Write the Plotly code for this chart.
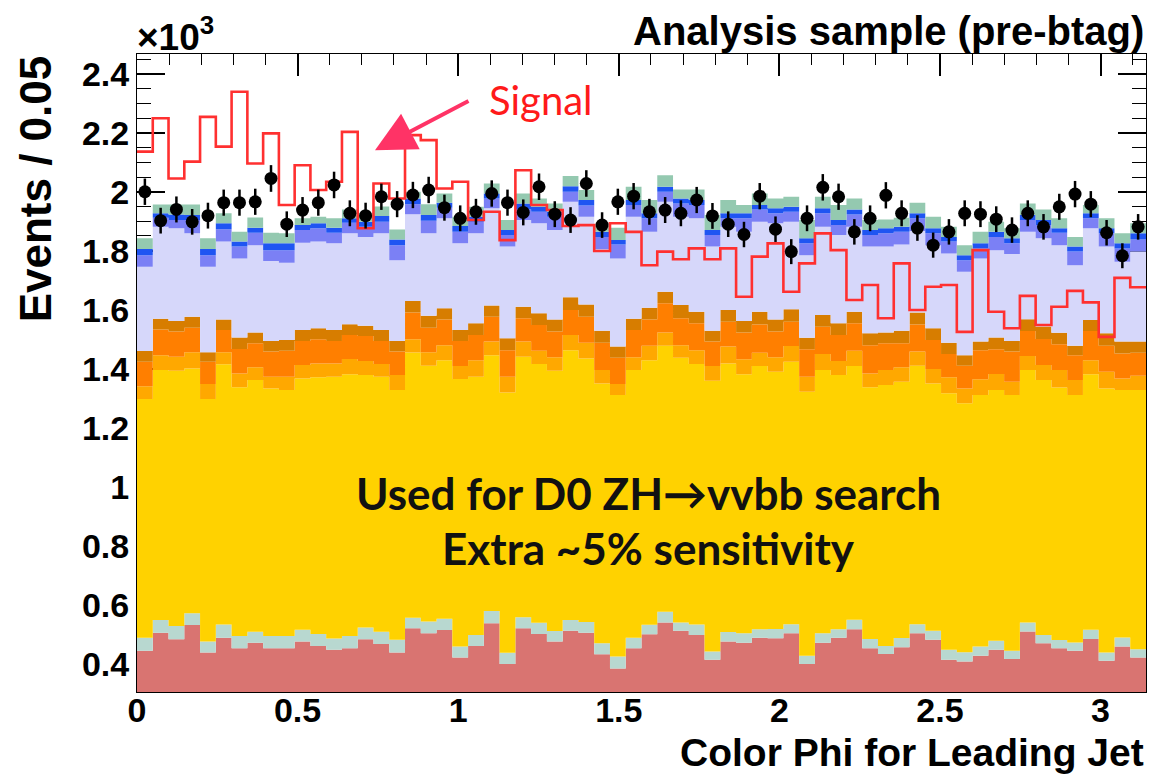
import numpy as np
import plotly.graph_objects as go

# ---- binning: 64 bins over [0, pi] ----
n_bins = 64
x_min, x_max = 0.0, np.pi
bin_edges = np.linspace(x_min, x_max, n_bins + 1)
bin_centers = 0.5 * (bin_edges[:-1] + bin_edges[1:])

# ---- stacked background: cumulative tops of each layer (x10^3 events) ----
top_red = [0.444, 0.505, 0.483, 0.531, 0.438, 0.488, 0.452, 0.471, 0.452, 0.452, 0.475, 0.460, 0.447, 0.452, 0.483, 0.467,
           0.438, 0.520, 0.503, 0.514, 0.421, 0.460, 0.537, 0.399, 0.520, 0.501, 0.475, 0.512, 0.505, 0.432, 0.384, 0.452,
           0.500, 0.540, 0.512, 0.497, 0.413, 0.475, 0.471, 0.488, 0.486, 0.503, 0.399, 0.471, 0.488, 0.517, 0.452, 0.433,
           0.456, 0.503, 0.481, 0.413, 0.407, 0.427, 0.447, 0.416, 0.509, 0.469, 0.452, 0.444, 0.484, 0.410, 0.458, 0.421]
top_lteal = [0.488, 0.548, 0.528, 0.571, 0.475, 0.533, 0.494, 0.508, 0.494, 0.494, 0.515, 0.501, 0.485, 0.494, 0.523, 0.508,
             0.481, 0.556, 0.543, 0.552, 0.458, 0.497, 0.579, 0.437, 0.557, 0.539, 0.511, 0.548, 0.541, 0.469, 0.424, 0.488,
             0.532, 0.576, 0.540, 0.533, 0.441, 0.507, 0.503, 0.517, 0.518, 0.534, 0.427, 0.503, 0.517, 0.549, 0.484, 0.460,
             0.487, 0.534, 0.512, 0.447, 0.439, 0.458, 0.478, 0.444, 0.540, 0.497, 0.480, 0.472, 0.515, 0.438, 0.489, 0.449]
top_yellow = [1.297, 1.396, 1.393, 1.401, 1.297, 1.415, 1.337, 1.362, 1.333, 1.328, 1.367, 1.371, 1.373, 1.381, 1.379, 1.373,
              1.328, 1.455, 1.410, 1.429, 1.365, 1.373, 1.446, 1.319, 1.441, 1.416, 1.393, 1.463, 1.435, 1.350, 1.311, 1.396,
              1.429, 1.478, 1.437, 1.416, 1.359, 1.418, 1.381, 1.409, 1.390, 1.424, 1.322, 1.396, 1.379, 1.409, 1.337, 1.345,
              1.356, 1.410, 1.350, 1.317, 1.283, 1.311, 1.328, 1.311, 1.396, 1.362, 1.336, 1.311, 1.381, 1.333, 1.328, 1.328]
top_lorange = [1.341, 1.446, 1.441, 1.456, 1.348, 1.456, 1.384, 1.405, 1.373, 1.373, 1.413, 1.418, 1.418, 1.433, 1.426, 1.416,
               1.379, 1.500, 1.456, 1.480, 1.409, 1.429, 1.492, 1.373, 1.492, 1.461, 1.439, 1.514, 1.488, 1.396, 1.348, 1.439,
               1.478, 1.523, 1.480, 1.463, 1.409, 1.475, 1.432, 1.454, 1.439, 1.477, 1.373, 1.450, 1.426, 1.461, 1.384, 1.396,
               1.405, 1.458, 1.399, 1.371, 1.333, 1.364, 1.382, 1.356, 1.443, 1.413, 1.396, 1.362, 1.429, 1.390, 1.367, 1.376]
top_orange = [1.424, 1.533, 1.526, 1.539, 1.424, 1.531, 1.467, 1.486, 1.458, 1.461, 1.494, 1.500, 1.494, 1.514, 1.511, 1.494,
              1.458, 1.591, 1.539, 1.567, 1.494, 1.514, 1.576, 1.463, 1.571, 1.548, 1.526, 1.599, 1.576, 1.488, 1.437, 1.531,
              1.567, 1.622, 1.571, 1.554, 1.492, 1.559, 1.523, 1.550, 1.526, 1.559, 1.466, 1.542, 1.514, 1.554, 1.480, 1.486,
              1.486, 1.550, 1.497, 1.450, 1.410, 1.463, 1.466, 1.458, 1.528, 1.501, 1.483, 1.446, 1.528, 1.478, 1.452, 1.454]
top_dorange = [1.460, 1.569, 1.562, 1.576, 1.456, 1.567, 1.506, 1.523, 1.494, 1.497, 1.531, 1.537, 1.531, 1.551, 1.546, 1.531,
               1.494, 1.630, 1.580, 1.605, 1.531, 1.554, 1.614, 1.503, 1.610, 1.588, 1.567, 1.642, 1.618, 1.529, 1.475, 1.569,
               1.607, 1.661, 1.616, 1.593, 1.529, 1.599, 1.562, 1.593, 1.567, 1.602, 1.505, 1.582, 1.554, 1.593, 1.520, 1.523,
               1.529, 1.591, 1.537, 1.488, 1.446, 1.492, 1.506, 1.494, 1.568, 1.543, 1.522, 1.478, 1.565, 1.520, 1.492, 1.492]
top_lavender = [1.746, 1.881, 1.876, 1.859, 1.746, 1.831, 1.774, 1.819, 1.765, 1.759, 1.827, 1.831, 1.825, 1.859, 1.847, 1.859,
                1.768, 1.924, 1.859, 1.910, 1.825, 1.859, 1.944, 1.814, 1.904, 1.893, 1.870, 1.966, 1.915, 1.805, 1.774, 1.915,
                1.864, 1.966, 1.915, 1.910, 1.814, 1.881, 1.864, 1.898, 1.893, 1.898, 1.785, 1.881, 1.853, 1.881, 1.814, 1.814,
                1.821, 1.867, 1.819, 1.791, 1.729, 1.774, 1.802, 1.789, 1.864, 1.842, 1.819, 1.751, 1.876, 1.814, 1.763, 1.797]
top_mblue = [1.785, 1.912, 1.904, 1.904, 1.785, 1.873, 1.814, 1.861, 1.802, 1.802, 1.870, 1.876, 1.861, 1.895, 1.881, 1.898,
             1.819, 1.958, 1.902, 1.946, 1.864, 1.898, 1.977, 1.853, 1.940, 1.932, 1.915, 2.000, 1.953, 1.847, 1.821, 1.955,
             1.910, 2.000, 1.960, 1.955, 1.853, 1.910, 1.910, 1.940, 1.927, 1.932, 1.825, 1.927, 1.887, 1.923, 1.853, 1.859,
             1.864, 1.910, 1.859, 1.831, 1.768, 1.808, 1.847, 1.825, 1.904, 1.887, 1.861, 1.797, 1.910, 1.859, 1.808, 1.838]
top_dblue = [1.806, 1.927, 1.923, 1.921, 1.806, 1.893, 1.831, 1.878, 1.825, 1.825, 1.887, 1.893, 1.878, 1.910, 1.898, 1.918,
             1.838, 1.977, 1.921, 1.963, 1.884, 1.915, 1.994, 1.870, 1.960, 1.949, 1.932, 2.019, 1.972, 1.864, 1.836, 1.972,
             1.927, 2.017, 1.977, 1.972, 1.870, 1.927, 1.927, 1.955, 1.944, 1.949, 1.842, 1.944, 1.904, 1.940, 1.870, 1.876,
             1.881, 1.927, 1.876, 1.847, 1.785, 1.825, 1.864, 1.842, 1.921, 1.904, 1.876, 1.814, 1.927, 1.876, 1.825, 1.859]
top_green = [1.842, 1.957, 1.957, 1.957, 1.842, 1.927, 1.864, 1.913, 1.861, 1.859, 1.910, 1.915, 1.910, 1.940, 1.927, 1.950,
             1.872, 2.000, 1.958, 1.994, 1.915, 1.949, 2.028, 1.904, 1.994, 1.977, 1.960, 2.053, 2.006, 1.885, 1.878, 2.017,
             1.972, 2.056, 2.008, 2.008, 1.921, 1.972, 1.955, 1.994, 1.977, 1.983, 1.904, 1.983, 1.955, 1.977, 1.904, 1.906,
             1.912, 1.963, 1.915, 1.881, 1.819, 1.864, 1.898, 1.876, 1.960, 1.940, 1.910, 1.847, 1.955, 1.910, 1.859, 1.893]

# ---- data points ----
data_vals = [2.000, 1.902, 1.940, 1.898, 1.919, 1.963, 1.963, 1.966, 2.045, 1.890, 1.938, 1.963, 2.023, 1.927, 1.919, 1.983,
             1.958, 1.989, 2.006, 1.946, 1.910, 1.932, 1.994, 1.963, 1.930, 2.017, 1.924, 1.904, 2.028, 1.887, 1.966, 1.985,
             1.932, 1.938, 1.927, 1.972, 1.918, 1.890, 1.855, 1.985, 1.873, 1.797, 1.910, 2.015, 1.983, 1.864, 1.910, 1.988,
             1.927, 1.877, 1.819, 1.864, 1.927, 1.924, 1.907, 1.870, 1.927, 1.881, 1.949, 1.992, 1.958, 1.861, 1.783, 1.881]

# ---- signal (scaled) ----
signal_vals = [2.136, 2.249, 2.045, 2.102, 2.254, 2.153, 2.339, 2.096, 2.198, 1.955, 2.090, 2.006, 2.034, 2.203, 1.876, 2.028,
               1.977, 2.192, 2.175, 2.011, 2.034, 1.904, 1.932, 1.836, 2.073, 1.955, 1.938, 1.884, 1.887, 1.799, 1.893, 1.864,
               1.751, 1.797, 1.771, 1.808, 1.771, 1.808, 1.644, 1.780, 1.825, 1.661, 1.757, 1.859, 1.802, 1.633, 1.684, 1.571,
               1.757, 1.599, 1.678, 1.684, 1.525, 1.802, 1.593, 1.537, 1.647, 1.548, 1.610, 1.664, 1.625, 1.508, 1.708, 1.676]

layers = [
    (top_red, '#d97471'),
    (top_lteal, '#b8d8d0'),
    (top_yellow, '#ffd200'),
    (top_lorange, '#ffa800'),
    (top_orange, '#ff7f00'),
    (top_dorange, '#d77d00'),
    (top_lavender, '#d6d7fa'),
    (top_mblue, '#7b80f5'),
    (top_dblue, '#1f55f2'),
    (top_green, '#94c9b0'),
]

fig = go.Figure()
x_step = list(bin_edges)
for i, (tops, col) in enumerate(layers):
    y_step = list(tops) + [tops[-1]]
    fig.add_trace(go.Scatter(
        x=x_step, y=y_step, mode='lines', line=dict(width=0, shape='hv', color=col),
        fill='tozeroy' if i == 0 else 'tonexty', fillcolor=col, hoverinfo='skip', showlegend=False))

# signal outline
fig.add_trace(go.Scatter(
    x=x_step, y=list(signal_vals) + [signal_vals[-1]], mode='lines',
    line=dict(color='#ff3030', width=2.6, shape='hv'), showlegend=False))

# data with Poisson errors
err = [np.sqrt(v * 1000.0) / 1000.0 for v in data_vals]
fig.add_trace(go.Scatter(
    x=bin_centers, y=data_vals, mode='markers',
    marker=dict(color='black', size=13, symbol='circle'),
    error_y=dict(type='data', array=err, visible=True, color='black', thickness=2.5, width=0),
    showlegend=False))

tick_font = dict(family='Liberation Sans, Arial, sans-serif', size=34, color='black', weight='bold')

fig.update_layout(
    width=1163, height=776,
    margin=dict(l=137, r=17, t=54, b=84),
    paper_bgcolor='white', plot_bgcolor='white',
    xaxis=dict(range=[x_min, x_max], showgrid=False, zeroline=False,
               showline=True, linecolor='black', linewidth=1, mirror='ticks',
               ticks='inside', ticklen=22, tickwidth=1.5, tickcolor='black',
               tick0=0, dtick=0.5, tickfont=tick_font, layer='below traces',
               ticklabelstandoff=-12,
               minor=dict(ticks='inside', ticklen=11, dtick=0.1, tickcolor='black', tickwidth=1.2)),
    yaxis=dict(range=[0.304, 2.467], showgrid=False, zeroline=False,
               showline=True, linecolor='black', linewidth=1, mirror='ticks',
               ticks='inside', ticklen=28, tickwidth=1.5, tickcolor='black',
               tick0=0, dtick=0.2, tickfont=tick_font, layer='below traces',
               minor=dict(ticks='inside', ticklen=14, dtick=0.05, tickcolor='black', tickwidth=1.2)),
)

title_font = dict(family='Liberation Sans, Arial, sans-serif', color='black', weight='bold')
fig.add_annotation(text='Analysis sample (pre-btag)', xref='paper', yref='paper', x=1.0, y=1.036,
                   xanchor='right', yanchor='middle', showarrow=False, font=dict(size=40, **title_font))
fig.add_annotation(text='×10<sup>3</sup>', xref='paper', yref='paper', x=-0.002, y=1.03,
                   xanchor='left', yanchor='middle', showarrow=False, font=dict(size=37, **title_font))
fig.add_annotation(text='Events / 0.05', xref='paper', yref='paper', x=-0.101, y=0.788, textangle=-90,
                   xanchor='center', yanchor='middle', showarrow=False, font=dict(size=44, **title_font))
fig.add_annotation(text='Color Phi for Leading Jet', xref='paper', yref='paper', x=1.0, y=-0.0956,
                   xanchor='right', yanchor='middle', showarrow=False, font=dict(size=39, **title_font))

# Signal label and arrow
fig.add_annotation(text='Signal', xref='x', yref='y', x=1.09, y=2.311, xanchor='left', yanchor='middle',
                   showarrow=False, font=dict(family='Lato, sans-serif', size=40, color='#ff1a1a'))
fig.add_annotation(text='', xref='x', yref='y', x=0.741, y=2.141, ax=95, ay=-50, showarrow=True,
                   arrowhead=2, arrowsize=2.0, arrowwidth=4, arrowcolor='#ff3366', standoff=0)

mid_font = dict(family='Lato, sans-serif', size=44, color='#111111', weight='bold')
fig.add_annotation(text='Used for D0 ZH→vvbb search', xref='x', yref='y', x=1.592, y=0.979,
                   xanchor='center', yanchor='middle', showarrow=False, font=mid_font)
fig.add_annotation(text='Extra ~5% sensitivity', xref='x', yref='y', x=1.592, y=0.792,
                   xanchor='center', yanchor='middle', showarrow=False, font=mid_font)

fig.write_html("out.html")
